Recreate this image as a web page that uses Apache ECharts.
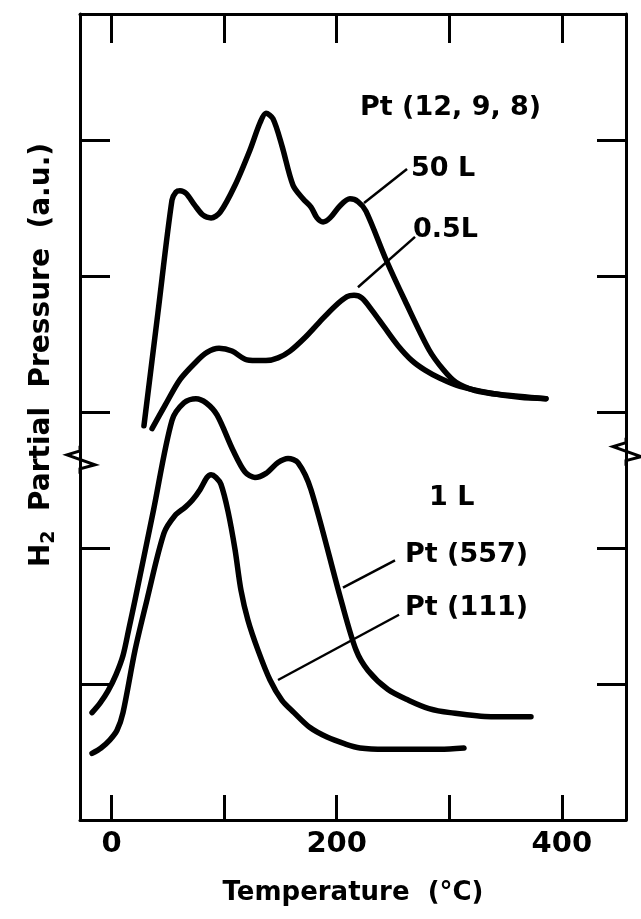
<!DOCTYPE html>
<html>
<head>
<meta charset="utf-8">
<title>H2 desorption Pt</title>
<script src="https://cdn.jsdelivr.net/npm/echarts@6/dist/echarts.min.js"></script>
<style>
html, body { margin: 0; padding: 0; background: #fff; }
#chart { width: 641px; height: 919px; }
</style>
</head>
<body>
<div id="chart"></div>
<script>
// temperature (°C) and H2 partial pressure (a.u.)
var t50L = [28.8, 41.2, 53.7, 57.3, 60.8, 66.2, 74.2, 81.3, 88.4, 96.4, 109.7, 123.0, 131.9, 137.2, 143.4, 151.4, 161.2, 170.1, 177.2, 182.5, 187.9, 194.1, 203.0, 211.8, 218.9, 226.0, 244.0, 260.7, 282.0, 295.0, 306.0, 322.9, 345.1, 385.9];
var p50L = [2.90, 3.73, 4.56, 4.62, 4.63, 4.61, 4.52, 4.45, 4.43, 4.47, 4.67, 4.93, 5.13, 5.20, 5.16, 4.96, 4.67, 4.57, 4.51, 4.43, 4.40, 4.43, 4.52, 4.57, 4.55, 4.48, 4.12, 3.82, 3.46, 3.31, 3.22, 3.16, 3.13, 3.10];

var t05L = [36.0, 47.5, 60.8, 75.0, 84.8, 95.5, 107.0, 118.6, 128.3, 137.2, 147.9, 158.5, 171.9, 184.3, 198.5, 209.2, 215.4, 222.5, 231.4, 242.0, 254.5, 266.9, 278.5, 291.8, 309.5, 337.1, 362.8, 385.9];
var p05L = [2.88, 3.05, 3.24, 3.37, 3.44, 3.47, 3.45, 3.39, 3.38, 3.38, 3.40, 3.45, 3.55, 3.66, 3.78, 3.85, 3.86, 3.84, 3.75, 3.63, 3.49, 3.38, 3.31, 3.25, 3.19, 3.14, 3.11, 3.10];

var t557 = [-17.3, -10.2, -3.1, 4.0, 10.2, 15.5, 20.9, 37.3, 53.7, 64.4, 75.0, 83.9, 93.7, 107.9, 118.6, 127.4, 137.2, 147.9, 156.8, 165.6, 177.2, 203.8, 217.2, 227.8, 245.6, 264.2, 282.0, 300.7, 337.1, 372.6];
var p557 = [0.79, 0.86, 0.95, 1.07, 1.21, 1.41, 1.62, 2.28, 2.94, 3.07, 3.10, 3.07, 2.98, 2.72, 2.56, 2.52, 2.55, 2.63, 2.66, 2.63, 2.43, 1.62, 1.25, 1.10, 0.96, 0.88, 0.82, 0.79, 0.76, 0.76];

var t111 = [-17.3, -9.3, -1.4, 4.9, 10.2, 20.9, 31.5, 46.6, 56.4, 65.3, 71.5, 78.6, 84.8, 88.4, 92.8, 97.2, 103.5, 109.7, 115.0, 121.2, 130.1, 140.8, 151.4, 162.1, 176.3, 191.4, 207.4, 220.7, 242.9, 264.2, 291.8, 313.1];
var p111 = [0.49, 0.53, 0.59, 0.66, 0.79, 1.25, 1.62, 2.11, 2.24, 2.30, 2.35, 2.43, 2.52, 2.54, 2.52, 2.47, 2.27, 1.99, 1.69, 1.47, 1.25, 1.03, 0.88, 0.79, 0.68, 0.61, 0.56, 0.53, 0.52, 0.52, 0.52, 0.53];

// axis ticks
var xTicks = [0, 100, 200, 300, 400];
var xLabels = [0, 200, 400];
var yTicks = [1, 2, 3, 4, 5];

// annotations: text, left x, centre y
var noteText = ['Pt (12, 9, 8)', '50 L', '0.5L', '1 L', 'Pt (557)', 'Pt (111)'];
var noteX = [220.7, 266.0, 267.8, 282.0, 260.7, 260.7];
var noteY = [5.24, 4.79, 4.34, 2.37, 1.95, 1.56];

// leader lines [x0, y0, x1, y1]
var lead50L = [224.3, 4.54, 262.5, 4.79];
var lead05L = [218.9, 3.92, 269.6, 4.29];
var lead557 = [205.6, 1.71, 251.8, 1.91];
var lead111 = [147.9, 1.03, 255.4, 1.51];

// where the axis break sits
var breakLeft = 2.65;
var breakRight = 2.71;

function zip(a, b) {
    var out = [];
    for (var i = 0; i < a.length; i++) out.push([a[i], b[i]]);
    return out;
}

var INK = '#000';
var FONT = 'DejaVu Sans';

function curve(name, xs, ys) {
    return {
        name: name, type: 'line', data: zip(xs, ys),
        showSymbol: false, smooth: 0.3, silent: true,
        lineStyle: { color: INK, width: 5.5, cap: 'round', join: 'round' }
    };
}
function leader(l) {
    return {
        type: 'line', data: [[l[0], l[1]], [l[2], l[3]]],
        showSymbol: false, silent: true,
        lineStyle: { color: INK, width: 2.5 }
    };
}

var notes = [];
for (var i = 0; i < noteText.length; i++) {
    notes.push({ name: noteText[i], value: [noteX[i], noteY[i]] });
}

var axisLine = { onZero: false, lineStyle: { color: INK, width: 3 } };
var tickLine = { color: INK, width: 3 };

var chart = echarts.init(document.getElementById('chart'));
var option = {
    animation: false,
    backgroundColor: '#fff',
    grid: { left: 80, right: 15, top: 14, bottom: 99 },
    xAxis: [
        {
            type: 'value', min: -28, max: 457, position: 'bottom',
            name: 'Temperature  (°C)', nameLocation: 'middle', nameGap: 60,
            nameTextStyle: { fontFamily: FONT, fontSize: 26, fontWeight: 'bold', color: INK },
            axisLine: axisLine,
            axisTick: { show: true, inside: true, length: 25, customValues: xTicks, lineStyle: tickLine },
            axisLabel: { customValues: xLabels, fontFamily: FONT, fontSize: 29, fontWeight: 'bold', color: INK, margin: 10 },
            splitLine: { show: false }
        },
        {
            type: 'value', min: -28, max: 457, position: 'top',
            axisLine: axisLine,
            axisTick: { show: true, inside: true, length: 29, customValues: xTicks, lineStyle: tickLine },
            axisLabel: { show: false },
            splitLine: { show: false }
        }
    ],
    yAxis: [
        {
            type: 'value', min: 0, max: 5.93, position: 'left',
            name: '{b|H}{s|2}{b|  Partial  Pressure  (a.u.)}', nameLocation: 'middle', nameGap: 21, nameRotate: 90,
            nameTextStyle: {
                padding: [0, 0, 0, 124],
                rich: {
                    b: { fontFamily: FONT, fontSize: 28, fontWeight: 'bold', color: INK },
                    s: { fontFamily: FONT, fontSize: 19, fontWeight: 'bold', color: INK, verticalAlign: 'bottom', padding: [15, 0, 0, 0] }
                }
            },
            axisLine: axisLine,
            axisTick: { show: true, inside: true, length: 30, customValues: yTicks, lineStyle: tickLine },
            axisLabel: { show: false },
            splitLine: { show: false }
        },
        {
            type: 'value', min: 0, max: 5.93, position: 'right',
            axisLine: axisLine,
            axisTick: { show: true, inside: true, length: 29, customValues: yTicks, lineStyle: tickLine },
            axisLabel: { show: false },
            splitLine: { show: false }
        }
    ],
    series: [
        curve('50 L', t50L, p50L),
        curve('0.5 L', t05L, p05L),
        curve('Pt (557)', t557, p557),
        curve('Pt (111)', t111, p111),
        leader(lead50L), leader(lead05L), leader(lead557), leader(lead111),
        {
            type: 'scatter', data: notes, symbolSize: 0, silent: true,
            itemStyle: { opacity: 1 },
            label: {
                show: true, position: 'right', distance: 0, opacity: 1,
                formatter: function (p) { return p.name; },
                fontFamily: FONT, fontSize: 27, fontWeight: 'bold', color: INK
            }
        }
    ]
};
chart.setOption(option);

// axis break marks (zigzag) on both vertical axes
function zigzag(x, y) {
    return [
        { type: 'rect', shape: { x: x - 4, y: y - 9, width: 8, height: 18 }, style: { fill: '#fff' }, silent: true },
        {
            type: 'polyline', silent: true,
            shape: { points: [[x, y - 14], [x, y - 9], [x - 13, y - 5], [x + 15, y + 5], [x, y + 9], [x, y + 14]] },
            style: { stroke: INK, lineWidth: 3, fill: null }
        }
    ];
}
var xl = chart.convertToPixel({ xAxisIndex: 0 }, -28);
var xr = chart.convertToPixel({ xAxisIndex: 0 }, 457);
var yl = chart.convertToPixel({ yAxisIndex: 0 }, breakLeft);
var yr = chart.convertToPixel({ yAxisIndex: 0 }, breakRight);
chart.setOption({ graphic: zigzag(xl, yl).concat(zigzag(xr, yr)) });
</script>
</body>
</html>
